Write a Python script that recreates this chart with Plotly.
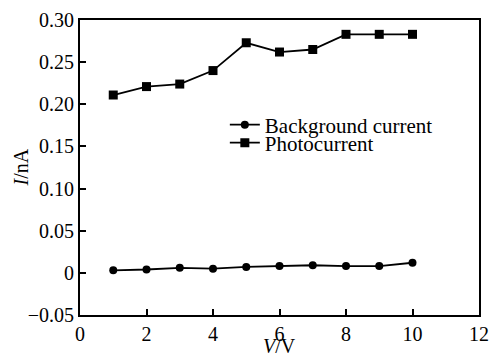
import plotly.graph_objects as go

voltage = [1, 2, 3, 4, 5, 6, 7, 8, 9, 10]
background_current = [0.003, 0.004, 0.006, 0.005, 0.007, 0.008, 0.009, 0.008, 0.008, 0.012]
photocurrent = [0.211, 0.221, 0.224, 0.240, 0.273, 0.262, 0.265, 0.283, 0.283, 0.283]

y_tick_vals = [-0.05, 0, 0.05, 0.10, 0.15, 0.20, 0.25, 0.30]
y_tick_text = ["\u22120.05", "0", "0.05", "0.10", "0.15", "0.20", "0.25", "0.30"]
x_tick_vals = [0, 2, 4, 6, 8, 10, 12]
x_tick_text = ["0", "2", "4", "6", "8", "10", "12"]

font = "Liberation Serif"
fs = 20

fig = go.Figure()
fig.add_trace(go.Scatter(x=voltage, y=background_current, name="Background current",
                         mode="lines+markers", line=dict(color="black", width=1.8),
                         marker=dict(symbol="circle", size=8, color="black"),
                         legend="legend"))
fig.add_trace(go.Scatter(x=voltage, y=photocurrent, name="Photocurrent",
                         mode="lines+markers", line=dict(color="black", width=1.8),
                         marker=dict(symbol="square", size=9, color="black"),
                         legend="legend2"))

leg_common = dict(bgcolor="rgba(0,0,0,0)", font=dict(size=21, family=font, color="black"),
                  itemwidth=30, xanchor="left", yanchor="middle", borderwidth=0)

fig.update_layout(
    width=491, height=356,
    margin=dict(l=80, r=12, t=20, b=41, autoexpand=False),
    paper_bgcolor="white", plot_bgcolor="white",
    font=dict(family=font, size=fs, color="black"),
    showlegend=True,
    legend=dict(x=0.363, y=0.644, **leg_common),
    legend2=dict(x=0.363, y=0.583, **leg_common),
    xaxis=dict(range=[0, 12], tickvals=x_tick_vals, ticktext=x_tick_text,
               ticks="inside", ticklen=6, tickwidth=1.5, tickcolor="black",
               showline=True, linecolor="black", linewidth=2, mirror=True,
               showgrid=False, zeroline=False, automargin=False,
               tickfont=dict(size=fs, family=font)),
    yaxis=dict(range=[-0.05, 0.30], tickvals=y_tick_vals, ticktext=y_tick_text,
               ticks="inside", ticklen=6, tickwidth=1.5, tickcolor="black",
               showline=True, linecolor="black", linewidth=2, mirror=True,
               showgrid=False, zeroline=False, automargin=False,
               tickfont=dict(size=fs, family=font)),
    annotations=[
        dict(text="<i>V</i>/V", xref="paper", yref="paper", x=0.5, y=0,
             xanchor="center", yanchor="top", yshift=-18, showarrow=False,
             font=dict(size=fs, family=font)),
        dict(text="<i>I</i>/nA", xref="paper", yref="paper", x=0, y=0.5,
             xanchor="center", yanchor="middle", xshift=-60, textangle=-90,
             showarrow=False, font=dict(size=fs, family=font)),
    ],
)

fig.write_html("out.html", config={"displayModeBar": False},
               post_script="document.body.style.margin='0';")
